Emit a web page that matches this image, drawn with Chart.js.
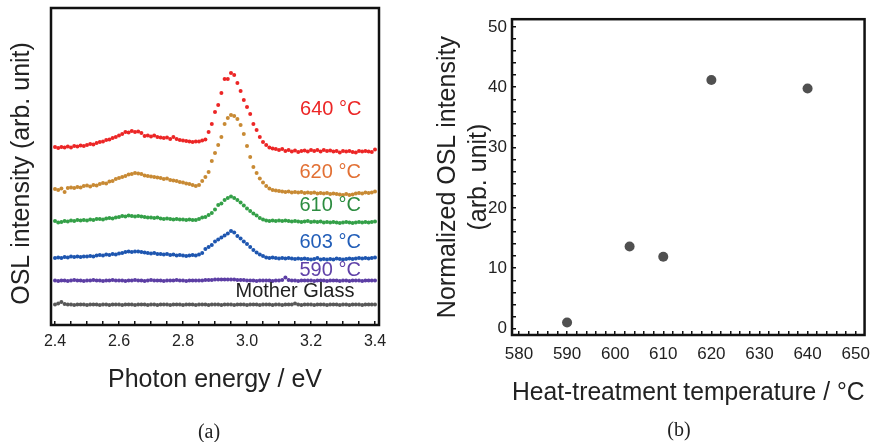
<!DOCTYPE html>
<html>
<head>
<meta charset="utf-8">
<script src="https://cdn.jsdelivr.net/npm/chart.js@4.4.1/dist/chart.umd.min.js"></script>
<style>
  body { margin: 0; background: #fff; }
  #wrap { position: relative; width: 883px; height: 442px; overflow: hidden; }
  canvas { position: absolute; top: 0; }
  #chartA { left: 0; }
  #chartB { left: 420px; }
  .cap { position: absolute; font: 20px "Liberation Serif", "Times New Roman", serif; color: #222; transform: translate(-50%, -50%); }
</style>
</head>
<body>
<div id="wrap">
  <canvas id="chartA" width="400" height="442"></canvas>
  <canvas id="chartB" width="463" height="442"></canvas>
  <div class="cap" style="left:209px; top:431px;">(a)</div>
  <div class="cap" style="left:679px; top:429px;">(b)</div>
</div>
<script>
// (a) OSL spectra, offset vertically, arb. unit
const energy = [
  2.40, 2.41, 2.42, 2.43, 2.44, 2.45, 2.46, 2.47, 2.48, 2.49,
  2.50, 2.51, 2.52, 2.53, 2.54, 2.55, 2.56, 2.57, 2.58, 2.59,
  2.60, 2.61, 2.62, 2.63, 2.64, 2.65, 2.66, 2.67, 2.68, 2.69,
  2.70, 2.71, 2.72, 2.73, 2.74, 2.75, 2.76, 2.77, 2.78, 2.79,
  2.80, 2.81, 2.82, 2.83, 2.84, 2.85, 2.86, 2.87, 2.88, 2.89,
  2.90, 2.91, 2.92, 2.93, 2.94, 2.95, 2.96, 2.97, 2.98, 2.99,
  3.00, 3.01, 3.02, 3.03, 3.04, 3.05, 3.06, 3.07, 3.08, 3.09,
  3.10, 3.11, 3.12, 3.13, 3.14, 3.15, 3.16, 3.17, 3.18, 3.19,
  3.20, 3.21, 3.22, 3.23, 3.24, 3.25, 3.26, 3.27, 3.28, 3.29,
  3.30, 3.31, 3.32, 3.33, 3.34, 3.35, 3.36, 3.37, 3.38, 3.39,
  3.40
];

const osl640 = [
  178, 177, 178, 177.5, 178.5, 177.5, 179, 178.5, 179.5, 179,
  180, 181, 180.5, 182, 183, 183.5, 185, 185.5, 187, 188,
  189.5, 191, 193, 192.5, 194, 193, 193.5, 192, 189, 189.5,
  188.5, 189.5, 188, 187.5, 187, 187.5, 186, 188, 186, 185,
  184.5, 184, 183.5, 183, 183.5, 183.5, 184.5, 185.5, 193, 201,
  213, 220, 232, 246, 246, 252, 250, 242, 234, 225,
  218, 211, 201, 195, 188, 183, 180, 177.5, 176.5, 176,
  175, 176, 174, 175, 173.5, 174.5, 173, 174, 174.5, 173.5,
  175, 174, 175, 173.5, 175, 174, 174.5, 173.5, 174, 172.5,
  174, 173.5, 174, 173, 172.5, 174, 173.5, 174, 173.5, 173,
  175.5
];

const osl620 = [
  136, 135, 136.5, 133, 137, 137.5, 137, 138, 137.5, 139,
  139.5, 138.5, 140, 139.5, 141, 142, 141.5, 143.5, 144, 146,
  147, 148, 149, 150.5, 151, 152, 151.5, 151, 149.5, 149,
  148.5, 148, 147.5, 147, 146, 146.5, 145, 144.5, 144, 143,
  142.5, 141.5, 141, 140, 139, 140, 144, 148, 153, 164,
  172, 180, 188, 201, 207, 210, 209, 206, 200, 191,
  179, 168, 158, 152, 146.5, 142.5, 139, 136.5, 135, 134.5,
  134, 133.5, 133, 133.5, 132.5, 133, 132.5, 133, 132, 132.5,
  132, 132.5, 131.5, 132, 131.5, 132, 131, 131.5, 131, 130.5,
  130, 131, 130, 130.5, 131.5, 132, 131.5, 132.5, 132, 132.5,
  133.5
];

const osl610 = [
  104, 102.5, 103, 104, 103.5, 104.5, 104, 105, 104.5, 105,
  104.5, 105.5, 105, 106, 106, 105.5, 106.5, 107, 106.5, 107.5,
  108, 109, 108.5, 109.5, 109, 108.5, 109, 108.5, 108, 107.5,
  107.5, 107, 107.5, 106.5, 106, 106.5, 106, 105.5, 106, 105.5,
  105.5, 105, 105.5, 105, 105, 106, 107.5, 108, 110, 112,
  115.5, 120, 121.5, 125, 127, 128.5, 127, 125, 122.5, 119.5,
  116.5, 114, 111.5, 109.5, 107, 105.5, 104.5, 104, 104.5, 104,
  104.5, 104, 104.5, 104, 103.5, 104, 103.5, 103, 103.5, 104,
  103, 103.5, 103, 103.5, 102.5, 103, 102.5, 103, 102.5, 102,
  102.5, 103, 102.5, 102, 102.5, 103, 102.5, 103, 102.5, 103,
  103.5
];

const osl603 = [
  67, 67.5, 67, 68, 67.5, 68.5, 68, 68.5, 68, 68.5,
  68.5, 69, 68.5, 69.5, 70, 69.5, 70.5, 70, 71, 70.5,
  71.5, 72, 73, 73.5, 73, 73.5, 73.5, 73, 72.5, 72,
  71.5, 72, 71, 71, 70.5, 71, 70, 70.5, 69.5, 70,
  69.5, 69, 69.5, 70, 69.5, 70.5, 72, 76, 78, 80,
  83.5, 85.5, 87.5, 89.5, 91.5, 94, 92.5, 89, 86.5, 83.5,
  81, 78, 75, 72.5, 70.5, 69, 67.5, 67, 67.5, 67,
  66.5, 67, 66.5, 67, 66.5, 66, 66.5, 66, 66.5, 66,
  65.5, 66, 67, 65.5, 66, 65.5, 66, 65.5, 66.5, 66,
  65.5, 66, 66.5, 66, 66.5, 67, 66.5, 67, 66.5, 67,
  67.5
];

const osl590 = [
  44.5, 44, 44.5, 44.5, 44, 44.5, 45, 44.5, 44.5, 44,
  44.5, 44.5, 45, 44.5, 44.5, 44, 44.5, 44.5, 45, 44.5,
  44.5, 44.5, 44, 44.5, 44.5, 45, 44.5, 44.5, 44, 44.5,
  45, 44.5, 44.5, 44.5, 44, 44.5, 44.5, 44.5, 45, 44.5,
  44.5, 44, 44.5, 44.5, 44.5, 44.5, 44.5, 45, 45, 45,
  45.5, 45.5, 45.5, 45.5, 45.5, 45.5, 45.5, 45, 45, 45,
  44.5, 44.5, 44.5, 44, 44.5, 44.5, 44.5, 44.5, 44, 44.5,
  44.5, 45, 47.5, 45, 44.5, 44.5, 44, 44.5, 44.5, 44.5,
  44.5, 44, 44.5, 44.5, 44.5, 44, 44.5, 44.5, 44.5, 44,
  44.5, 44.5, 44, 44.5, 44.5, 44.5, 44, 44.5, 44.5, 44.5,
  44.5
];

const oslMother = [
  20.5, 21.5, 23, 21, 20.5, 20.5, 20, 20.5, 20.5, 20.5,
  20, 20.5, 20.5, 20.5, 20, 20.5, 20.5, 20, 20.5, 20.5,
  20.5, 20, 20.5, 20.5, 20.5, 20, 20.5, 20.5, 20.5, 20,
  20.5, 20.5, 20, 20.5, 20.5, 20.5, 20, 20.5, 20.5, 20.5,
  20, 20.5, 20.5, 20.5, 20, 20.5, 20.5, 20.5, 20, 20.5,
  20.5, 20.5, 20, 20.5, 20.5, 20.5, 20, 20.5, 20.5, 20.5,
  20, 20.5, 20.5, 20.5, 20, 20.5, 20.5, 20.5, 20, 20.5,
  20.5, 20, 20.5, 20.5, 20.5, 21.5, 20.5, 20, 20.5, 20.5,
  20.5, 20, 20.5, 20.5, 20.5, 20, 20.5, 20.5, 20.5, 20,
  20.5, 20.5, 20, 20.5, 20.5, 20.5, 20, 20.5, 20.5, 20.5,
  20.5
];

const energyTickLabels = [2.4, 2.6, 2.8, 3.0, 3.2, 3.4];

// (b) normalized OSL intensity vs heat-treatment temperature
const temps = [590, 603, 610, 620, 640];
const normOSL = [1.0, 13.6, 11.9, 41.2, 39.8];
const tempTickLabels = [580, 590, 600, 610, 620, 630, 640, 650];
const normTickLabels = [0, 10, 20, 30, 40, 50];

const spectra = [
  { name: '640 °C', values: osl640, color: 'rgb(236,38,38)', text: 'rgb(236,38,38)', at: [3.166, 210] },
  { name: '620 °C', values: osl620, color: 'rgb(200,138,52)', text: 'rgb(226,112,52)', at: [3.164, 147] },
  { name: '610 °C', values: osl610, color: 'rgb(52,160,72)', text: 'rgb(44,140,64)', at: [3.164, 114] },
  { name: '603 °C', values: osl603, color: 'rgb(30,86,176)', text: 'rgb(34,94,184)', at: [3.164, 77] },
  { name: '590 °C', values: osl590, color: 'rgb(92,62,164)', text: 'rgb(96,66,168)', at: [3.164, 49] },
  { name: 'Mother Glass', values: oslMother, color: 'rgb(88,88,88)', text: '#222', at: [2.964, 28] },
];

const INK = '#111';
const TICK_FONT = { family: '"Liberation Sans", Arial, sans-serif', size: 16 };
const TITLE_FONT = { family: '"Liberation Sans", Arial, sans-serif', size: 25, lineHeight: 1.2 };

// box around the plot area
const framePlugin = {
  id: 'frame',
  afterDraw(chart) {
    const a = chart.chartArea;
    const ctx = chart.ctx;
    ctx.save();
    ctx.strokeStyle = INK;
    ctx.lineWidth = 2.5;
    ctx.strokeRect(a.left, a.top, a.right - a.left, a.bottom - a.top);
    ctx.restore();
  }
};

// temperature labels next to each spectrum
const curveLabels = {
  id: 'curveLabels',
  afterDatasetsDraw(chart) {
    const ctx = chart.ctx;
    const xs = chart.scales.x, ys = chart.scales.y;
    ctx.save();
    ctx.font = '20px "Liberation Sans", Arial, sans-serif';
    ctx.textBaseline = 'alphabetic';
    ctx.textAlign = 'left';
    spectra.forEach(s => {
      ctx.fillStyle = s.text;
      ctx.fillText(s.name, xs.getPixelForValue(s.at[0]), ys.getPixelForValue(s.at[1]));
    });
    ctx.restore();
  }
};

function stepTicks(from, to, step) {
  const out = [];
  for (let v = from; v <= to + 1e-9; v += step) out.push({ value: +v.toFixed(4) });
  return out;
}

const ctxA = document.getElementById('chartA').getContext('2d');
const chartA = new Chart(ctxA, {
  type: 'scatter',
  data: {
    datasets: spectra.map(s => ({
      label: s.name,
      data: energy.map((e, i) => ({ x: e, y: s.values[i] })),
      backgroundColor: s.color,
      borderColor: s.color,
      borderWidth: 0,
      pointRadius: 2,
      showLine: false,
    })),
  },
  options: {
    responsive: false,
    animation: false,
    layout: { padding: { top: 8, right: 21, left: 0, bottom: 0 } },
    plugins: { legend: { display: false }, tooltip: { enabled: false } },
    scales: {
      x: {
        type: 'linear',
        min: 2.3875,
        max: 3.4125,
        afterBuildTicks: scale => { scale.ticks = stepTicks(2.4, 3.4, 0.05); },
        afterFit: scale => { scale.height = 117; },
        border: { display: false },
        grid: { drawOnChartArea: false, tickLength: -4, color: INK, lineWidth: 1.5 },
        ticks: {
          font: TICK_FONT,
          color: '#222',
          padding: 11,
          maxRotation: 0,
          autoSkip: false,
          callback: v => energyTickLabels.some(t => Math.abs(t - v) < 1e-6) ? v.toFixed(1) : '',
        },
        title: {
          display: true,
          text: 'Photon energy / eV',
          font: TITLE_FONT,
          color: '#222',
          padding: { top: 0, bottom: 47 },
        },
      },
      y: {
        type: 'linear',
        min: 0,
        max: 317,
        afterFit: scale => { scale.width = 51; },
        border: { display: false },
        grid: { display: false },
        ticks: { display: false },
        title: {
          display: true,
          // trailing spaces nudge the centred title slightly down, as in the original
          text: 'OSL intensity (arb. unit)  ',
          font: TITLE_FONT,
          color: '#222',
          padding: { top: 7, bottom: 0 },
        },
      },
    },
  },
  plugins: [framePlugin, curveLabels],
});

const ctxB = document.getElementById('chartB').getContext('2d');
const chartB = new Chart(ctxB, {
  type: 'scatter',
  data: {
    datasets: [{
      label: 'Normalized OSL intensity',
      data: temps.map((t, i) => ({ x: t, y: normOSL[i] })),
      backgroundColor: '#505050',
      borderColor: '#505050',
      borderWidth: 0,
      pointRadius: 5,
    }],
  },
  options: {
    responsive: false,
    animation: false,
    layout: { padding: { top: 7, right: 6, left: 0, bottom: 0 } },
    plugins: { legend: { display: false }, tooltip: { enabled: false } },
    scales: {
      x: {
        type: 'linear',
        min: 578.55,
        max: 651.85,
        afterBuildTicks: scale => { scale.ticks = stepTicks(580, 650, 2); },
        afterFit: scale => { scale.height = 107; },
        border: { display: false },
        grid: { drawOnChartArea: false, tickLength: -4, color: INK, lineWidth: 1.5 },
        ticks: {
          font: { ...TICK_FONT, size: 17 },
          color: '#222',
          padding: 13,
          maxRotation: 0,
          autoSkip: false,
          callback: v => tempTickLabels.includes(Math.round(v)) && Math.abs(v - Math.round(v)) < 1e-6 ? String(Math.round(v)) : '',
        },
        title: {
          display: true,
          text: 'Heat-treatment temperature / °C',
          font: TITLE_FONT,
          color: '#222',
          padding: { top: 0, bottom: 34 },
        },
      },
      y: {
        type: 'linear',
        min: -1.07,
        max: 51.28,
        afterBuildTicks: scale => { scale.ticks = stepTicks(0, 50, 2); },
        afterFit: scale => { scale.width = 92; },
        border: { display: false },
        grid: { drawOnChartArea: false, tickLength: -4, color: INK, lineWidth: 1.5 },
        ticks: {
          font: { ...TICK_FONT, size: 17 },
          color: '#222',
          padding: 9,
          autoSkip: false,
          callback: v => normTickLabels.includes(Math.round(v)) && Math.abs(v - Math.round(v)) < 1e-6 ? String(Math.round(v)) : '',
        },
        title: {
          display: true,
          text: ['Normalized OSL intensity', '(arb. unit)'],
          font: { ...TITLE_FONT, lineHeight: 1.24 },
          color: '#222',
          padding: { top: 12.5, bottom: 0 },
        },
      },
    },
  },
  plugins: [framePlugin],
});
</script>
</body>
</html>
